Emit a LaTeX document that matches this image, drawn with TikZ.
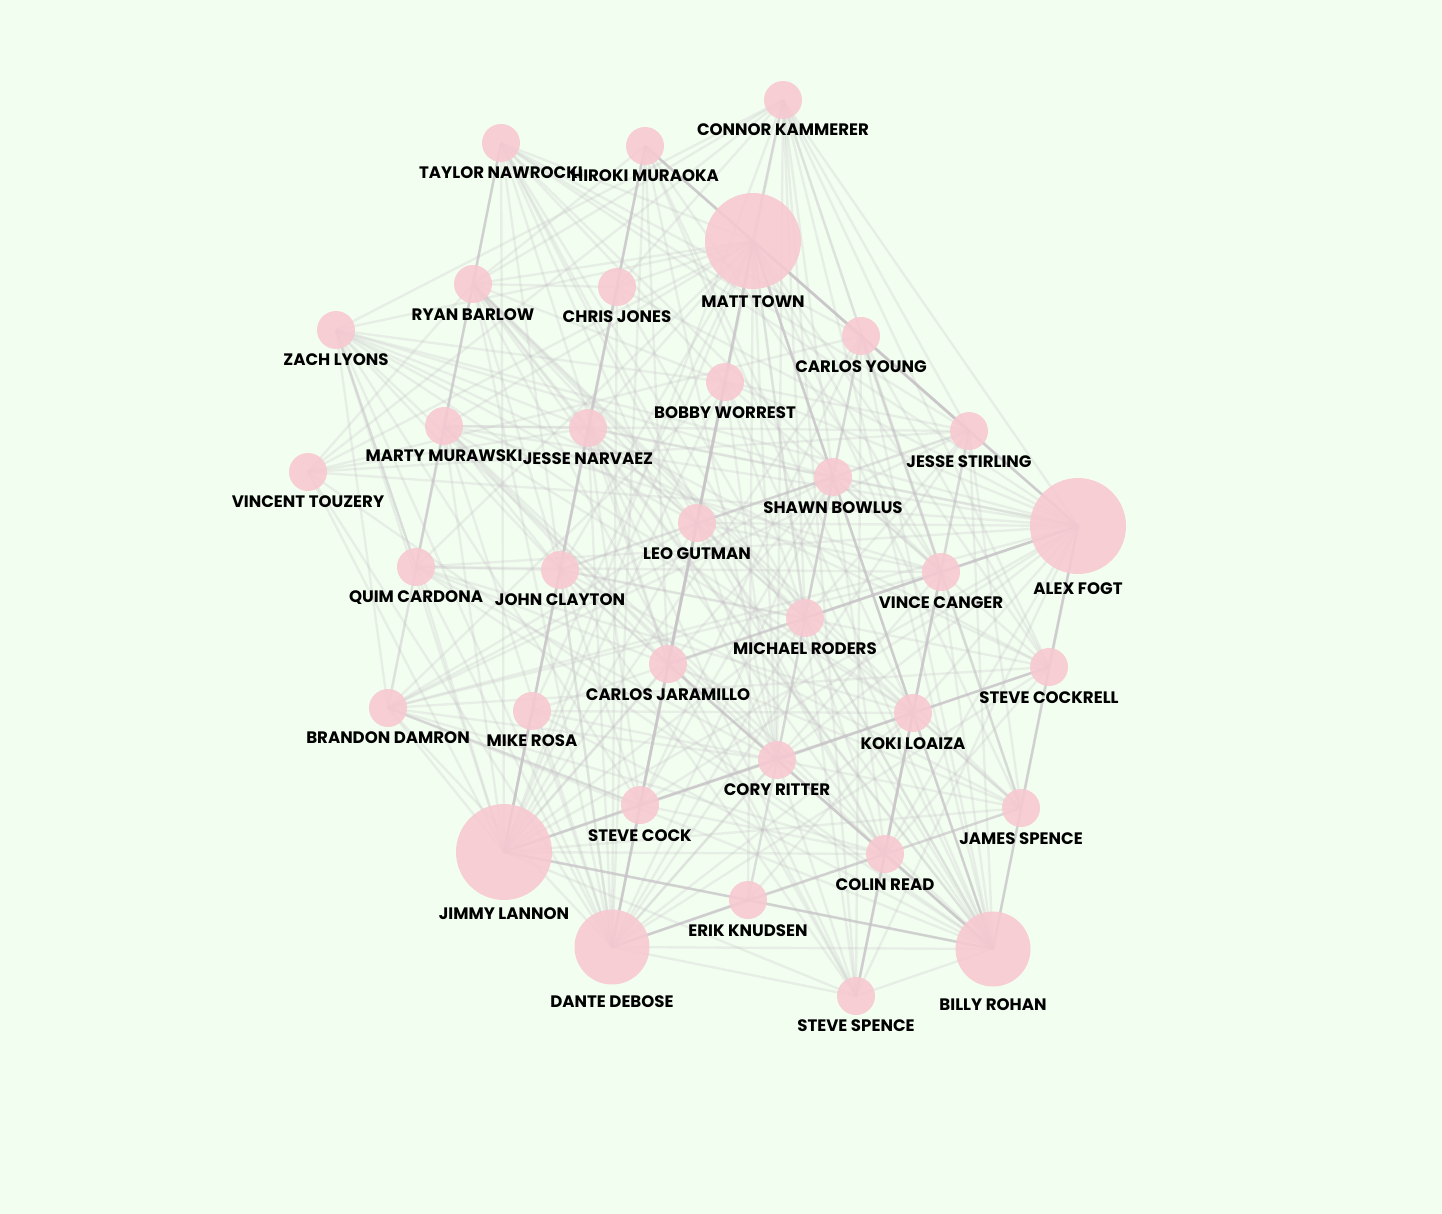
\documentclass[tikz,border=0pt]{standalone}
\usepackage{fontspec}
\setmainfont{Poppins}
\usetikzlibrary{backgrounds}
\definecolor{bgc}{HTML}{F2FFF0}
\definecolor{pinkc}{HTML}{F7C9D1}
\definecolor{edgec}{RGB}{200,195,200}
\tikzset{
 person/.style={circle, fill=pinkc, fill opacity=0.9, draw=none, inner sep=0pt, minimum size=38pt},
 hub/.style={person, minimum size=96pt},
 mid/.style={person, minimum size=75pt},
 lab/.style={font=\fontsize{16.6}{18}\selectfont\bfseries, text=black, inner sep=0pt, text height=12pt, text depth=0pt, anchor=center},
 faint/.style={draw=edgec, opacity=0.27, line width=2.4pt},
 strong/.style={draw=edgec, opacity=0.55, line width=2.4pt},
}
\begin{document}
\begin{tikzpicture}[x=1pt,y=-1pt]
\useasboundingbox (0,0) rectangle (1442,1214);
\foreach \n/\x/\y/\s/\ly/\t in {
 1/783/100/person/130/CONNOR KAMMERER,
 2/501/143/person/173/TAYLOR NAWROCKI,
 3/645/146/person/176/HIROKI MURAOKA,
 4/753/241/hub/302/MATT TOWN,
 5/473/284/person/314/RYAN BARLOW,
 6/617/287/person/317/CHRIS JONES,
 7/336/330/person/359/ZACH LYONS,
 8/861/336/person/366/CARLOS YOUNG,
 9/725/382/person/412/BOBBY WORREST,
 10/444/426/person/455/MARTY MURAWSKI,
 11/588/428/person/458/JESSE NARVAEZ,
 12/969/431/person/461/JESSE STIRLING,
 13/308/472/person/501/VINCENT TOUZERY,
 14/833/477/person/507/SHAWN BOWLUS,
 15/1078/526/hub/588/ALEX FOGT,
 16/697/523/person/553/LEO GUTMAN,
 17/416/567/person/596/QUIM CARDONA,
 18/560/570/person/599/JOHN CLAYTON,
 19/941/572/person/602/VINCE CANGER,
 20/805/618/person/648/MICHAEL RODERS,
 21/1049/667/person/697/STEVE COCKRELL,
 22/668/664/person/694/CARLOS JARAMILLO,
 23/388/708/person/737/BRANDON DAMRON,
 24/532/711/person/740/MIKE ROSA,
 25/913/713/person/743/KOKI LOAIZA,
 26/777/760/person/789/CORY RITTER,
 27/1021/808/person/838/JAMES SPENCE,
 28/640/805/person/835/STEVE COCK,
 29/504/852/hub/913/JIMMY LANNON,
 30/885/854/person/884/COLIN READ,
 31/748/900/person/930/ERIK KNUDSEN,
 32/612/947/mid/1001/DANTE DEBOSE,
 33/993/949/mid/1004/BILLY ROHAN,
 34/856/996/person/1025/STEVE SPENCE}{
 \node[\s] (n\n) at (\x,\y) {};
 \node[lab] (l\n) at (\x,\ly) {\t};
}
\begin{scope}[on background layer]
\fill[bgc] (0,0) rectangle (1442,1214);
\foreach \i in {1,...,33}{
  \pgfmathtruncatemacro{\jst}{\i+1}
  \foreach \j in {\jst,...,34}{
    \pgfmathtruncatemacro{\rr}{mod(\i*37+\j*53+\i*\j*11,7)}
    \pgfmathtruncatemacro{\hh}{(\i==4)||(\j==4)||(\i==15)||(\j==15)||(\i==29)||(\j==29)||(\i==32)||(\j==32)||(\i==33)||(\j==33)}
    \pgfmathtruncatemacro{\thr}{3+3*\hh}
    \ifnum\rr<\thr\relax \draw[faint] (n\i.center) -- (n\j.center);\fi
  }
}
\foreach \a/\b in {4/1,3/8,8/12,12/15,3/6,6/11,11/18,18/24,24/29,2/5,5/10,10/17,7/17,4/9,9/16,16/22,22/28,28/32,22/20,20/19,19/15,22/26,26/30,30/33,29/28,28/26,26/25,25/21,23/28,29/31,31/33,32/31,31/30,30/27,14/25,25/33,20/26,26/31,25/30,30/34,21/27,27/33,15/21,4/14,14/20}
  \draw[strong] (n\a.center) -- (n\b.center);
\end{scope}
\end{tikzpicture}
\end{document}
